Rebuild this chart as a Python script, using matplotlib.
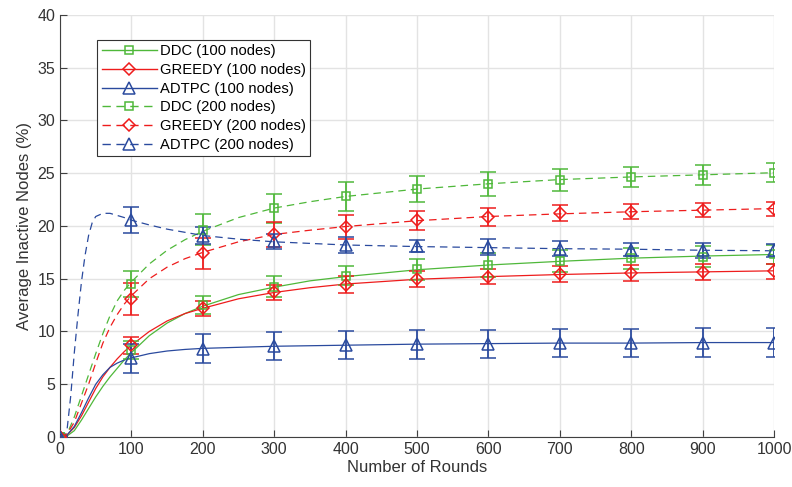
import matplotlib.pyplot as plt
from matplotlib.lines import Line2D

plt.rcParams['font.family'] = ['Liberation Sans', 'DejaVu Sans']

GREEN = '#4fb83a'
RED = '#ee1c1c'
BLUE = '#2a4a9e'

# marker positions (rounds)
rounds = [0, 100, 200, 300, 400, 500, 600, 700, 800, 900, 1000]

ddc100 = [0, 8.25, 12.5, 14.25, 15.3, 15.9, 16.3, 16.7, 16.95, 17.1, 17.3]
ddc100_err = [0.1, 0.82, 0.88, 0.98, 0.87, 1.0, 1.1, 1.05, 1.0, 1.0, 0.9]
greedy100 = [0, 8.7, 12.2, 13.7, 14.45, 14.95, 15.2, 15.45, 15.5, 15.63, 15.73]
greedy100_err = [0.1, 0.79, 0.7, 0.74, 0.77, 0.76, 0.68, 0.76, 0.76, 0.76, 0.71]
adtpc100 = [0, 7.45, 8.35, 8.6, 8.75, 8.8, 8.82, 8.9, 8.9, 8.95, 8.95]
adtpc100_err = [0.1, 1.37, 1.37, 1.34, 1.34, 1.37, 1.34, 1.34, 1.34, 1.36, 1.36]

ddc200 = [0, 14.5, 19.65, 21.67, 22.8, 23.5, 24.02, 24.37, 24.65, 24.84, 25.06]
ddc200_err = [0.1, 1.22, 1.45, 1.4, 1.4, 1.26, 1.14, 1.06, 0.98, 0.95, 0.9]
greedy200 = [0, 13.1, 17.4, 19.2, 19.94, 20.54, 20.88, 21.2, 21.36, 21.48, 21.6]
greedy200_err = [0.1, 1.5, 1.48, 1.2, 1.14, 0.92, 0.85, 0.76, 0.73, 0.66, 0.66]
adtpc200 = [0, 20.57, 19.08, 18.55, 18.2, 18.1, 18.0, 17.85, 17.75, 17.68, 17.7]
adtpc200_err = [0.1, 1.23, 0.8, 0.71, 0.74, 0.54, 0.73, 0.71, 0.63, 0.7, 0.63]

# fitted curves
curve_x = [0, 10, 20, 30, 40, 50, 60, 70, 80, 90, 100, 125, 150, 175, 200,
           250, 300, 350, 400, 500, 600, 700, 800, 900, 1000]
ddc100_fit = [0, 0.1, 0.6, 1.6, 2.7, 3.8, 4.8, 5.7, 6.5, 7.3, 8.0, 9.6, 10.8,
              11.7, 12.4, 13.5, 14.2, 14.8, 15.2, 15.85, 16.3, 16.65, 16.95, 17.15, 17.3]
greedy100_fit = [0, 0.2, 0.9, 2.0, 3.3, 4.6, 5.7, 6.6, 7.4, 8.1, 8.7, 10.0, 11.0,
                 11.7, 12.2, 13.1, 13.7, 14.15, 14.5, 14.95, 15.2, 15.4, 15.55, 15.65, 15.75]
adtpc100_fit = [0, 0.2, 1.0, 2.3, 3.7, 5.0, 5.9, 6.6, 7.0, 7.3, 7.5, 7.9, 8.15,
                8.3, 8.4, 8.5, 8.6, 8.65, 8.7, 8.8, 8.85, 8.9, 8.9, 8.95, 8.95]
ddc200_fit = [0, 0.3, 1.9, 3.9, 5.9, 7.9, 9.8, 11.5, 12.9, 13.9, 14.7, 16.4, 17.7,
              18.7, 19.5, 20.8, 21.7, 22.3, 22.8, 23.5, 24.0, 24.4, 24.65, 24.85, 25.05]
greedy200_fit = [0, 0.3, 1.4, 3.2, 5.0, 7.0, 8.9, 10.4, 11.6, 12.6, 13.4, 15.0, 16.1,
                 16.9, 17.5, 18.5, 19.2, 19.6, 19.95, 20.5, 20.9, 21.15, 21.35, 21.5, 21.65]

# ADTPC 200 rises much faster, needs its own sampling
adtpc200_x = [0, 5, 10, 15, 20, 25, 30, 35, 40, 45, 50, 60, 70, 80, 90, 100, 125,
              150, 200, 250, 300, 400, 500, 600, 700, 800, 900, 1000]
adtpc200_fit = [0, 0.05, 0.8, 3.9, 8.0, 11.5, 14.7, 17.2, 19.1, 20.3, 20.9, 21.2,
                21.2, 21.0, 20.8, 20.55, 20.1, 19.7, 19.1, 18.75, 18.5, 18.2, 18.05,
                17.95, 17.85, 17.8, 17.7, 17.65]

labels = ['DDC (100 nodes)', 'GREEDY (100 nodes)', 'ADTPC (100 nodes)',
          'DDC (200 nodes)', 'GREEDY (200 nodes)', 'ADTPC (200 nodes)']

fig = plt.figure(figsize=(7.92, 4.87), dpi=100)
ax = fig.add_axes([0.0758, 0.1027, 0.9015, 0.8665])

series = [
    (curve_x, ddc100_fit, ddc100, ddc100_err, GREEN, '-', 's', 6),
    (curve_x, greedy100_fit, greedy100, greedy100_err, RED, '-', 'D', 6),
    (curve_x, adtpc100_fit, adtpc100, adtpc100_err, BLUE, '-', '^', 8),
    (curve_x, ddc200_fit, ddc200, ddc200_err, GREEN, '--', 's', 6),
    (curve_x, greedy200_fit, greedy200, greedy200_err, RED, '--', 'D', 6),
    (adtpc200_x, adtpc200_fit, adtpc200, adtpc200_err, BLUE, '--', '^', 8),
]

handles = []
for (cx, cy, my, me, col, ls, mk, ms), lab in zip(series, labels):
    dash = (0, (6, 4)) if ls == '--' else '-'
    ax.plot(cx, cy, color=col, lw=0.9, ls=dash, zorder=3)
    ax.errorbar(rounds, my, yerr=me, fmt=mk, color=col, mfc='none', mec=col,
                ms=ms, mew=1.1, elinewidth=1.3, capsize=5.5, capthick=1.3, zorder=4)
    handles.append(Line2D([], [], color=col, lw=1.0, ls=dash,
                          marker=mk, ms=ms, mfc='none', mec=col, mew=1.1))

ax.set_xlim(0, 1000)
ax.set_ylim(0, 40)
ax.set_xticks(range(0, 1001, 100))
ax.set_yticks(range(0, 41, 5))
ax.grid(True, color='#e3e3e3', lw=1.0)
ax.set_axisbelow(True)
for s in ['top', 'right']:
    ax.spines[s].set_visible(False)
for s in ['left', 'bottom']:
    ax.spines[s].set_color('#404040')
ax.tick_params(direction='in', length=5, colors='#404040', labelsize=11.5,
               labelcolor='#333333')
ax.set_xlabel('Number of Rounds', fontsize=12, color='#333333', labelpad=2)
ax.set_ylabel('Average Inactive Nodes (%)', fontsize=12, color='#333333', labelpad=4)

leg = ax.legend(handles, labels, loc='upper left', bbox_to_anchor=(0.052, 0.941),
                borderaxespad=0, fontsize=10.6, handlelength=3.75, handletextpad=0.2,
                labelspacing=0.32, borderpad=0.3, fancybox=False, framealpha=1,
                edgecolor='#333333')
leg.get_frame().set_linewidth(0.8)

fig.savefig('out.png', dpi=100)
